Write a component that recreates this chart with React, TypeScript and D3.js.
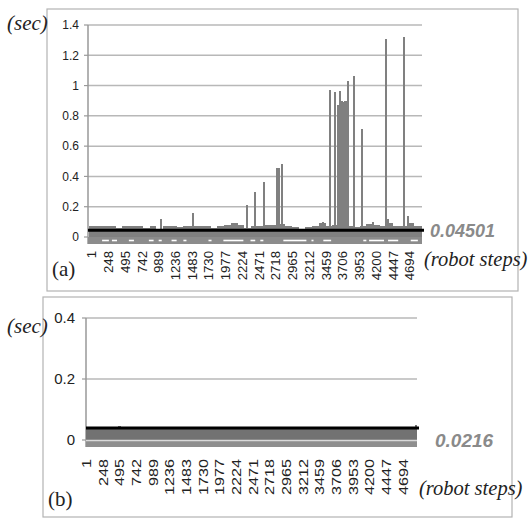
import * as d3 from "d3";

// x tick labels (robot steps)
const stepLabels = [1, 248, 495, 742, 989, 1236, 1483, 1730, 1977, 2224, 2471, 2718, 2965, 3212, 3459, 3706, 3953, 4200, 4447, 4694];
const yTicksA = [0, 0.2, 0.4, 0.6, 0.8, 1, 1.2, 1.4];
const yTicksB = [0, 0.2, 0.4];

// (a) background level, one value per 100 steps starting at step -50
const baseA = [
  0.07, 0.075, 0.07, 0.075, 0.06, 0.07, 0.075, 0.075, 0.06, 0.07,
  0.055, 0.075, 0.07, 0.065, 0.07, 0.075, 0.075, 0.07, 0.06, 0.07,
  0.08, 0.095, 0.08, 0.06, 0.075, 0.075, 0.08, 0.08, 0.085, 0.07,
  0.065, 0.055, 0.065, 0.07, 0.09, 0.075, 0.08, 0.08, 0.07, 0.065,
  0.07, 0.085, 0.08, 0.07, 0.09, 0.07, 0.07, 0.09, 0.075, 0.07,
];
// (a) single long steps
const spikeStepsA = [1019, 1492, 2288, 2407, 2539, 2731, 2760, 2805, 3410, 3513, 3587, 3631, 3661, 3690, 3715, 3740, 3765, 3779, 3868, 3986, 4148, 4340, 4370, 4605, 4665];
const spikeValuesA = [0.12, 0.16, 0.21, 0.3, 0.36, 0.455, 0.455, 0.48, 0.1, 0.97, 0.96, 0.87, 0.965, 0.9, 0.89, 0.9, 0.89, 1.03, 1.06, 0.71, 0.1, 1.31, 0.12, 1.32, 0.14];

// (b) background level, one value per 100 steps starting at step 1
const baseB = [
  0.038, 0.039, 0.038, 0.038, 0.039, 0.038, 0.038, 0.039, 0.038, 0.038,
  0.039, 0.038, 0.038, 0.039, 0.038, 0.038, 0.039, 0.038, 0.038, 0.039,
  0.038, 0.038, 0.039, 0.038, 0.038, 0.039, 0.038, 0.038, 0.039, 0.038,
  0.038, 0.039, 0.038, 0.038, 0.039, 0.038, 0.038, 0.039, 0.038, 0.038,
  0.039, 0.038, 0.038, 0.039, 0.038, 0.038, 0.039, 0.038, 0.038,
];
const spikeStepsB = [495, 4880];
const spikeValuesB = [0.045, 0.05];

const meanLineA = 0.045;
const meanLineB = 0.039;
const meanLabelA = "0.04501";
const meanLabelB = "0.0216";

// white breaks in the zero line of (a), as step ranges
const zeroBreaksA = [
  [150, 250], [295, 370], [545, 620], [840, 910], [985, 1030], [1175, 1250], [1350, 1395], [1720, 1765],
  [1940, 2235], [2340, 2410], [2485, 2530], [2825, 3165], [3240, 3270], [3415, 3530], [4005, 4050], [4090, 4310], [4370, 4520], [4705, 4810],
];

const serif = "'Liberation Serif', 'Times New Roman', serif";
const sans = "'Liberation Sans', Arial, sans-serif";

type PanelCfg = {
  box: [number, number, number, number];
  left: number;
  right: number;
  y0: number;
  yTop: number;
  yMax: number;
  yTicks: number[];
  labelRange: [number, number];
  binStart: number;
  base: number[];
  spikeSteps: number[];
  spikeValues: number[];
  mean: number;
  meanLabel: string;
  meanLabelPos: [number, number, number];
  tickFont: string;
  tickSize: number;
  tickLabelX: number;
  stepFontSize: number;
  stepScale: number;
  stepTop: number;
  barColor: string;
  lowColor: string;
  secY: number;
  tag: string;
  tagPos: [number, number];
  robotPos: [number, number];
  zeroBreaks: number[][] | null;
};

function Panel({ c }: { c: PanelCfg }) {
  const x = d3.scaleLinear().domain([1, 4694]).range(c.labelRange);
  const y = d3.scaleLinear().domain([0, c.yMax]).range([c.y0, c.yTop]);
  const [bx, by, bw, bh] = c.box;
  const clampX = (v: number) => Math.max(c.left, Math.min(c.right, v));

  return (
    <g>
      <rect x={bx} y={by} width={bw} height={bh} fill="none" stroke="#b3b3b3" strokeWidth={1.2} />
      {c.yTicks.map((t) => (
        <g key={t}>
          {t > 0 && <line x1={c.left} x2={c.right} y1={y(t)} y2={y(t)} stroke="#b8b8b8" strokeWidth={1.5} />}
          <line x1={c.left - 4} x2={c.left} y1={y(t)} y2={y(t)} stroke="#999" strokeWidth={1.2} />
          <text x={c.tickLabelX} y={y(t)} dy="0.36em" textAnchor="end" fontFamily={c.tickFont} fontSize={c.tickSize} fill="#222">
            {d3.format("~g")(t)}
          </text>
        </g>
      ))}
      <line x1={c.left} x2={c.left} y1={c.yTop} y2={c.y0 + 7} stroke="#999" strokeWidth={1.5} />

      {/* band under the zero line */}
      <rect x={c.left} y={c.y0} width={c.right - c.left} height={7} fill={c.lowColor} />

      {/* bars */}
      <g shapeRendering="crispEdges" fill={c.barColor}>
        {c.base.map((v, i) => {
          const x1 = clampX(x(c.binStart + i * 100));
          const x2 = clampX(x(c.binStart + (i + 1) * 100));
          if (x2 <= x1) return null;
          return <rect key={i} x={x1} y={y(v)} width={x2 - x1} height={y(0) - y(v)} />;
        })}
        {c.spikeSteps.map((s, i) => (
          <rect key={"s" + i} x={x(s) - 1} y={y(c.spikeValues[i])} width={2.2} height={y(0) - y(c.spikeValues[i])} />
        ))}
      </g>

      {/* zero line */}
      {c.zeroBreaks ? (
        c.zeroBreaks.map(([a, b], i) => (
          <line key={"z" + i} x1={clampX(x(a))} x2={clampX(x(b))} y1={c.y0 + 3.5} y2={c.y0 + 3.5} stroke="#fff" strokeWidth={1.6} />
        ))
      ) : (
        <line x1={c.left} x2={c.right} y1={c.y0 + 0.5} y2={c.y0 + 0.5} stroke="#d9d9d9" strokeWidth={1.6} />
      )}

      {/* mean line */}
      <line x1={c.left} x2={c.right + 2} y1={y(c.mean)} y2={y(c.mean)} stroke="#000" strokeWidth={3} />
      <text x={c.meanLabelPos[0]} y={c.meanLabelPos[1]} fontFamily={sans} fontWeight="bold" fontStyle="italic" fontSize={c.meanLabelPos[2]} fill="#8a8a8a">
        {c.meanLabel}
      </text>

      {stepLabels.map((s) => (
        <text
          key={s}
          transform={`translate(${x(s)},${c.stepTop}) rotate(-90) scale(${c.stepScale},1)`}
          textAnchor="end"
          dy="0.36em"
          fontFamily={sans}
          fontSize={c.stepFontSize}
          fill="#222"
        >
          {s}
        </text>
      ))}

      <text x={7} y={c.secY} fontFamily={serif} fontStyle="italic" fontSize={21} fill="#222">(sec)</text>
      <text x={c.tagPos[0]} y={c.tagPos[1]} fontFamily={serif} fontSize={21} fill="#222">{c.tag}</text>
      <text x={c.robotPos[0]} y={c.robotPos[1]} fontFamily={serif} fontStyle="italic" fontSize={20.5} fill="#222">(robot steps)</text>
    </g>
  );
}

const panelA: PanelCfg = {
  box: [47, 9, 471, 282],
  left: 88,
  right: 422,
  y0: 237,
  yTop: 25,
  yMax: 1.4,
  yTicks: yTicksA,
  labelRange: [92, 410],
  binStart: -50,
  base: baseA,
  spikeSteps: spikeStepsA,
  spikeValues: spikeValuesA,
  mean: meanLineA,
  meanLabel: meanLabelA,
  meanLabelPos: [430, 237, 18],
  tickFont: sans,
  tickSize: 12,
  tickLabelX: 79,
  stepFontSize: 12,
  stepScale: 1.1,
  stepTop: 251,
  barColor: "#808080",
  lowColor: "#8c8c8c",
  secY: 30,
  tag: "(a)",
  tagPos: [52, 276],
  robotPos: [424, 266],
  zeroBreaks: zeroBreaksA,
};

const panelB: PanelCfg = {
  box: [43, 297, 469, 220],
  left: 86,
  right: 417,
  y0: 440,
  yTop: 318,
  yMax: 0.4,
  yTicks: yTicksB,
  labelRange: [86, 403],
  binStart: 1,
  base: baseB,
  spikeSteps: spikeStepsB,
  spikeValues: spikeValuesB,
  mean: meanLineB,
  meanLabel: meanLabelB,
  meanLabelPos: [435, 447, 19],
  tickFont: "'Liberation Sans Narrow', 'Arial Narrow', sans-serif",
  tickSize: 15,
  tickLabelX: 75,
  stepFontSize: 13.5,
  stepScale: 1.2,
  stepTop: 459,
  barColor: "#727272",
  lowColor: "#8e8e8e",
  secY: 333,
  tag: "(b)",
  tagPos: [48, 506],
  robotPos: [419, 495],
  zeroBreaks: null,
};

export default function App() {
  return (
    <svg width={530} height={518} style={{ position: "absolute", left: 0, top: 0, background: "#fff" }}>
      <Panel c={panelA} />
      <Panel c={panelB} />
    </svg>
  );
}
